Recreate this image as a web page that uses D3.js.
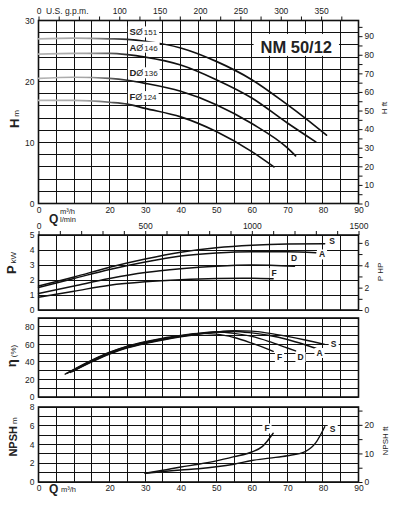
<!DOCTYPE html>
<html>
<head>
<meta charset="utf-8">
<script src="https://cdn.jsdelivr.net/npm/d3@7/dist/d3.min.js"></script>
<style>
  body { margin: 0; background: #fff; }
  svg { display: block; font-family: "Liberation Sans", Arial, Helvetica, sans-serif; }
</style>
</head>
<body>
<div class="chart"></div>
<script>
var svgWidth = 395;
var svgHeight = 505;

// curve names and impeller diameters
var curveNames = ["S", "A", "D", "F"];
var diameters = [151, 146, 136, 124];

// head curves: [Q m3/h, H m]
var headS = [[0,27.0],[10,27.1],[20,27.0],[25,26.9],[30,26.6],[40,25.5],[50,23.3],[60,20.3],[70,16.2],[75,14.0],[81,11.2]];
var headA = [[0,24.5],[10,24.6],[20,24.6],[25,24.4],[30,24.0],[40,22.7],[50,20.3],[60,17.3],[70,13.2],[78,10.1]];
var headD = [[0,20.5],[10,20.7],[20,20.5],[25,20.2],[30,19.7],[40,18.4],[50,16.2],[60,13.1],[70,9.1],[72.3,7.8]];
var headF = [[0,16.9],[10,16.9],[20,16.6],[25,16.3],[30,15.6],[40,14.2],[50,11.8],[60,8.5],[66.2,6.0]];

// power curves: [Q m3/h, P kW]
var powerS = [[0,1.6],[10,2.2],[20,2.85],[30,3.4],[40,3.85],[50,4.15],[60,4.32],[70,4.4],[80.5,4.42]];
var powerA = [[0,1.5],[10,2.1],[20,2.7],[30,3.2],[40,3.6],[50,3.8],[60,3.88],[70,3.88],[78,3.82]];
var powerD = [[0,1.1],[10,1.6],[20,2.1],[30,2.5],[40,2.75],[50,2.92],[60,3.0],[72,2.92]];
var powerF = [[0,0.85],[10,1.25],[20,1.65],[30,1.88],[40,2.02],[50,2.1],[60,2.12],[66,2.08]];

// efficiency curves: [Q m3/h, eta %]
var effS = [[9.5,29],[15,40],[20,49],[25,56],[30,61],[35,65],[40,68.5],[45,71.5],[50,74],[55,75.4],[60,75],[65,72.5],[70,69],[75,65],[80.5,60]];
var effA = [[9,28],[15,40.5],[20,49.5],[25,56.5],[30,61.5],[35,65.5],[40,69],[45,72],[50,74],[55,74.7],[60,73],[65,70],[70,65.5],[75,59.5],[78,55.5]];
var effD = [[8,27],[15,41.5],[20,50.5],[25,57.5],[30,62.5],[35,66.5],[40,69.5],[45,72.5],[50,74],[55,72.5],[60,69],[65,63],[70,55.8],[72.3,52.5]];
var effF = [[7.5,26],[15,42],[20,51],[25,58],[30,63],[35,67],[40,70],[45,72.5],[50,71.6],[55,67.8],[60,61.3],[65,53.7],[66,52]];

// NPSH curves: [Q m3/h, NPSH m]
var npshF = [[30,0.93],[35,1.25],[40,1.6],[45,1.9],[50,2.25],[55,2.7],[60,3.2],[63,3.8],[66,5.2]];
var npshS = [[30,0.93],[40,1.28],[45,1.42],[50,1.62],[55,1.9],[60,2.3],[65,2.55],[70,2.8],[75,3.25],[78,4.2],[80.5,5.9]];

// tick labels
var qLabels = [0, 20, 30, 40, 50, 60, 70, 80, 90];
var gpmLabels = [0, 100, 150, 200, 250, 300, 350];
var lminLabels = [0, 500, 1000, 1500];

var svg = d3.select(".chart")
  .append("svg")
  .attr("width", svgWidth)
  .attr("height", svgHeight);

var ink = "#111";
var font = 8.5;

// shared flow scale
var x = d3.scaleLinear().domain([0, 90]).range([38.5, 358.5]);
var xGpm = d3.scaleLinear().domain([0, 90 / 0.22712]).range(x.range());
var xLmin = d3.scaleLinear().domain([0, 1500]).range(x.range());

// panel scales
var yH = d3.scaleLinear().domain([0, 30]).range([203.5, 20.5]);
var yFt = d3.scaleLinear().domain([0, 30 / 0.3048]).range(yH.range());
var yP = d3.scaleLinear().domain([0, 5]).range([310, 235]);
var yHp = d3.scaleLinear().domain([0, 5 / 0.7457]).range(yP.range());
var yE = d3.scaleLinear().domain([0, 90]).range([397, 318]);
var yN = d3.scaleLinear().domain([0, 8]).range([482, 407]);
var yNft = d3.scaleLinear().domain([0, 8 / 0.3048]).range(yN.range());

function crisp(v) { return Math.round(v - 0.5) + 0.5; }

// grey-to-black fade on the left part of the head curves
var grad = svg.append("defs").append("linearGradient")
  .attr("id", "fade")
  .attr("gradientUnits", "userSpaceOnUse")
  .attr("x1", x(0)).attr("x2", x(30)).attr("y1", 0).attr("y2", 0);
grad.append("stop").attr("offset", 0).attr("stop-color", "#b5b5b5");
grad.append("stop").attr("offset", 0.45).attr("stop-color", "#a5a5a5");
grad.append("stop").attr("offset", 0.92).attr("stop-color", ink);
grad.append("stop").attr("offset", 1).attr("stop-color", ink);

function drawGrid(y, step) {
  var g = svg.append("g");
  var dom = y.domain();
  var ys = d3.range(dom[0], dom[1] + 0.001, step);
  g.selectAll(".v").data(d3.range(0, 90.1, 5)).enter().append("line")
    .attr("x1", d => crisp(x(d))).attr("x2", d => crisp(x(d)))
    .attr("y1", y.range()[0]).attr("y2", y.range()[1])
    .attr("stroke", ink).attr("stroke-width", 1);
  g.selectAll(".h").data(ys).enter().append("line")
    .attr("x1", x(0)).attr("x2", x(90))
    .attr("y1", d => crisp(y(d))).attr("y2", d => crisp(y(d)))
    .attr("stroke", ink).attr("stroke-width", 1);
  g.append("rect")
    .attr("x", x(0)).attr("y", y.range()[1])
    .attr("width", x(90) - x(0)).attr("height", y.range()[0] - y.range()[1])
    .attr("fill", "none").attr("stroke", ink).attr("stroke-width", 1.6);
}

function styleAxis(g) {
  g.select(".domain").remove();
  g.selectAll("line").attr("stroke", ink).attr("stroke-width", 1);
  g.selectAll("text").attr("fill", "#222").attr("font-size", font).attr("font-family", null);
}

function leftAxis(y, vals) {
  svg.append("g")
    .attr("transform", `translate(${x(0)},0)`)
    .call(d3.axisLeft(y).tickValues(vals).tickSize(0).tickPadding(4).tickFormat(d3.format("d")))
    .call(styleAxis);
}

function rightAxis(y, step, labelStep, max) {
  svg.append("g")
    .attr("transform", `translate(${x(90)},0)`)
    .call(d3.axisRight(y).tickValues(d3.range(0, max + 0.01, step)).tickSize(4).tickPadding(2)
      .tickFormat(d => d % labelStep === 0 ? d : ""))
    .call(styleAxis);
}

function drawCurve(data, y, color, width) {
  svg.append("path")
    .datum(data)
    .attr("fill", "none")
    .attr("stroke", color)
    .attr("stroke-width", width)
    .attr("stroke-linecap", "round")
    .attr("d", d3.line().x(d => x(d[0])).y(d => y(d[1])).curve(d3.curveMonotoneX));
}

// text on a white patch so it cuts the grid
function boxLabel(px, py, txt, size) {
  var g = svg.append("g");
  var t = g.append("text")
    .attr("x", px).attr("y", py)
    .attr("text-anchor", "middle")
    .attr("dy", "0.35em")
    .attr("font-size", size).attr("font-weight", "bold")
    .attr("fill", "#222")
    .text(txt);
  var b = t.node().getBBox();
  g.insert("rect", "text")
    .attr("x", b.x - 2).attr("y", b.y)
    .attr("width", b.width + 4).attr("height", b.height)
    .attr("fill", "#fff");
}

function axisTitle(px, py, big, small, bigSize) {
  var t = svg.append("text")
    .attr("transform", `translate(${px},${py}) rotate(-90)`)
    .attr("text-anchor", "middle")
    .attr("fill", "#222");
  if (big) t.append("tspan").attr("font-size", bigSize).attr("font-weight", "bold").text(big);
  t.append("tspan").attr("font-size", 8).attr("dx", big ? 2 : 0).text(small);
}

/* Head panel */
drawGrid(yH, 2);
leftAxis(yH, [0, 10, 20, 30]);
rightAxis(yFt, 5, 10, 95);
svg.append("g")
  .attr("transform", `translate(0,${yH.range()[1]})`)
  .call(d3.axisTop(xGpm).tickValues(d3.range(0, 376, 25)).tickSize(4).tickPadding(3)
    .tickFormat(d => gpmLabels.indexOf(d) >= 0 ? d : ""))
  .call(styleAxis);
svg.append("text").attr("x", 46).attr("y", 13.5)
  .attr("font-size", font).attr("fill", "#222").text("U.S. g.p.m.");
svg.append("g")
  .attr("transform", `translate(0,${yH.range()[0]})`)
  .call(d3.axisBottom(x).tickValues(qLabels).tickSize(0).tickPadding(3))
  .call(styleAxis);
svg.append("text").attr("x", 49).attr("y", 222.5)
  .attr("font-size", 12).attr("font-weight", "bold").attr("fill", "#222").text("Q");
svg.append("text").attr("x", 60).attr("y", 213.5)
  .attr("font-size", 7.5).attr("fill", "#222").text("m³/h");
svg.append("text").attr("x", 60).attr("y", 221.5)
  .attr("font-size", 7.5).attr("fill", "#222").text("l/min");
axisTitle(18.5, 119, "H", "m", 13);
axisTitle(387, 108, null, "H ft");

[headS, headA, headD, headF].forEach(function(c) {
  drawCurve(c, yH, "url(#fade)", 1.7);
});

// diameter tags
[headS, headA, headD, headF].forEach(function(c, i) {
  var g = svg.append("g");
  var t = g.append("text")
    .attr("x", x(25) + 2).attr("y", yH(c[3][1]) - 4)
    .attr("fill", "#222");
  t.append("tspan").attr("font-size", 9.5).attr("font-weight", "bold").text(curveNames[i]);
  t.append("tspan").attr("font-size", 9).text("Ø");
  t.append("tspan").attr("font-size", 8).attr("dx", 1).text(diameters[i]);
  var b = t.node().getBBox();
  g.insert("rect", "text")
    .attr("x", b.x - 1.5).attr("y", b.y)
    .attr("width", b.width + 3).attr("height", b.height)
    .attr("fill", "#fff");
});

// model tag
var tag = svg.append("g");
tag.append("rect")
  .attr("x", x(60.5)).attr("y", yH(27.8))
  .attr("width", x(84.5) - x(60.5)).attr("height", yH(24.2) - yH(27.8))
  .attr("fill", "#fff");
tag.append("text")
  .attr("x", (x(60.5) + x(84.5)) / 2).attr("y", yH(24.7))
  .attr("text-anchor", "middle")
  .attr("font-size", 16.5).attr("font-weight", "bold").attr("fill", "#222")
  .text("NM 50/12");

/* Power panel */
drawGrid(yP, 1);
leftAxis(yP, [0, 1, 2, 3, 4, 5]);
rightAxis(yHp, 1, 2, 6);
svg.append("g")
  .attr("transform", `translate(0,${yP.range()[1]})`)
  .call(d3.axisTop(xLmin).tickValues(d3.range(0, 1501, 100)).tickSize(4).tickPadding(2)
    .tickFormat(d => lminLabels.indexOf(d) >= 0 ? d : ""))
  .call(styleAxis);
axisTitle(16, 263, "P", "kW", 13);
axisTitle(382.5, 272, null, "P HP");

[powerS, powerA, powerD, powerF].forEach(function(c) {
  drawCurve(c, yP, ink, 1.4);
});
boxLabel(332, 241, "S", 8.5);
boxLabel(322, 254.5, "A", 8.5);
boxLabel(294, 258.5, "D", 8.5);
boxLabel(274, 273, "F", 8.5);

/* Efficiency panel */
drawGrid(yE, 10);
leftAxis(yE, [0, 20, 40, 60, 80]);
axisTitle(15.5, 356, "η", "(%)", 13);

[effS, effA, effD, effF].forEach(function(c) {
  drawCurve(c, yE, ink, 1.4);
});
boxLabel(333.5, 344.5, "S", 8.5);
boxLabel(319.5, 353, "A", 8.5);
boxLabel(300.5, 357, "D", 8.5);
boxLabel(279.5, 357, "F", 8.5);

/* NPSH panel */
drawGrid(yN, 1);
leftAxis(yN, [0, 2, 4, 6, 8]);
rightAxis(yNft, 5, 10, 25);
svg.append("g")
  .attr("transform", `translate(0,${yN.range()[0]})`)
  .call(d3.axisBottom(x).tickValues(qLabels).tickSize(0).tickPadding(3))
  .call(styleAxis);
svg.append("text").attr("x", 49).attr("y", 492.5)
  .attr("font-size", 12).attr("font-weight", "bold").attr("fill", "#222").text("Q");
svg.append("text").attr("x", 61).attr("y", 491.5)
  .attr("font-size", 7.5).attr("fill", "#222").text("m³/h");
axisTitle(17, 437, "NPSH", "m", 11);
axisTitle(388, 441, null, "NPSH ft");

drawCurve(npshF, yN, ink, 1.4);
drawCurve(npshS, yN, ink, 1.4);
boxLabel(267, 428.5, "F", 8.5);
boxLabel(332.5, 429.5, "S", 8.5);
</script>
</body>
</html>
